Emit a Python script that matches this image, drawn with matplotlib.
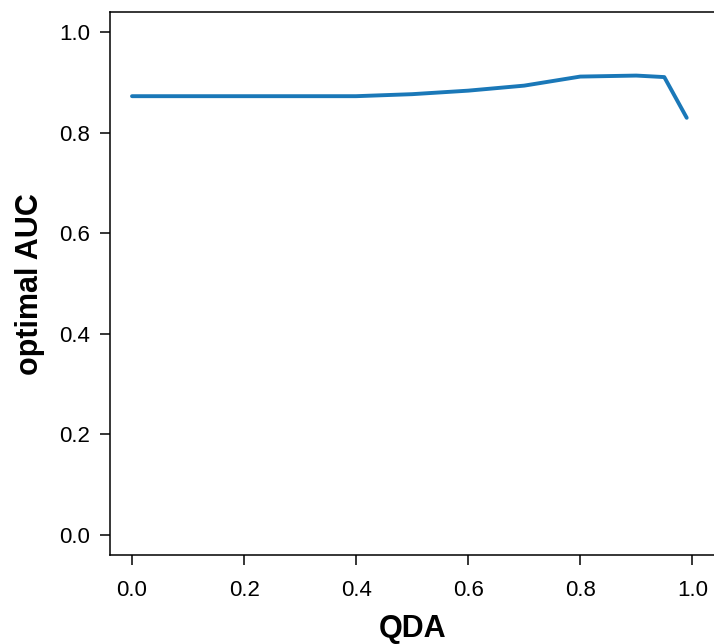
import matplotlib
matplotlib.use('Agg')
import matplotlib.pyplot as plt

plt.rcParams['font.family'] = ['Liberation Sans', 'DejaVu Sans']

# QDA weight vs optimal AUC
qda = [0.0, 0.1, 0.2, 0.3, 0.4, 0.5, 0.6, 0.7, 0.8, 0.9, 0.95, 0.99]
auc = [0.873, 0.873, 0.873, 0.873, 0.873, 0.877, 0.884, 0.894, 0.912, 0.914, 0.911, 0.830]

xticks = [0.0, 0.2, 0.4, 0.6, 0.8, 1.0]
yticks = [0.0, 0.2, 0.4, 0.6, 0.8, 1.0]

fig = plt.figure(figsize=(7.14, 6.44), dpi=100)
ax = fig.add_axes([0.1535, 0.138, 0.8475, 0.843])

ax.plot(qda, auc, color='#1a78b8', linewidth=2.8, solid_capstyle='round')

ax.set_xlim(-0.04, 1.04)
ax.set_ylim(-0.04, 1.04)
ax.set_xticks(xticks)
ax.set_yticks(yticks)
ax.set_xticklabels(['%.1f' % t for t in xticks])
ax.set_yticklabels(['%.1f' % t for t in yticks])

for s in ax.spines.values():
    s.set_linewidth(1.1)
# right edge of the box falls off the picture in the original
ax.spines['right'].set_visible(False)
ax.tick_params(axis='both', direction='out', length=7, width=1.1, labelsize=16,
               colors='black')
ax.tick_params(axis='x', pad=11)
ax.tick_params(axis='y', pad=7)

ax.set_xlabel('QDA', fontsize=22, fontweight='bold', labelpad=9)
ax.set_ylabel('optimal AUC', fontsize=22, fontweight='bold', labelpad=10)

fig.savefig('out.png', dpi=100)
